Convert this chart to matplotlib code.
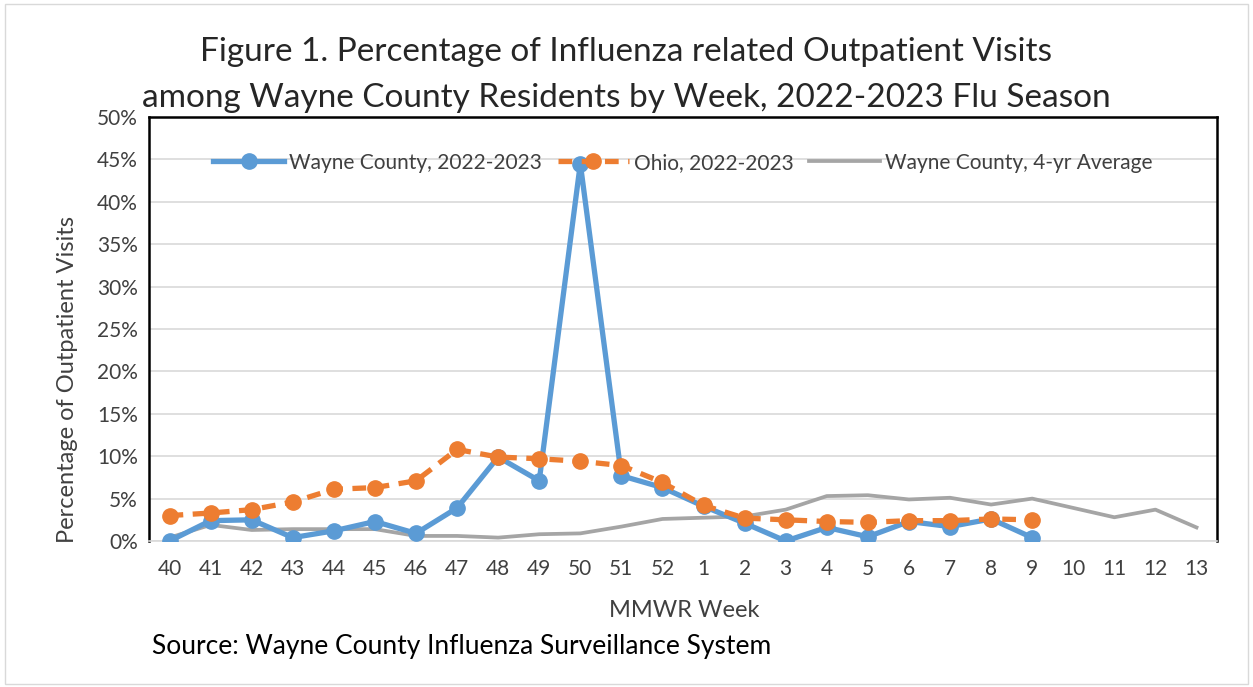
import matplotlib
matplotlib.use("Agg")
import matplotlib.pyplot as plt
from matplotlib.patches import Rectangle

plt.rcParams['font.family'] = ['Lato', 'DejaVu Sans']

weeks = ["40", "41", "42", "43", "44", "45", "46", "47", "48", "49", "50", "51", "52",
         "1", "2", "3", "4", "5", "6", "7", "8", "9", "10", "11", "12", "13"]
wayne_2223 = [0.0, 2.4, 2.5, 0.4, 1.2, 2.3, 0.9, 3.9, 9.9, 7.1, 44.5, 7.7, 6.3,
              4.1, 2.1, 0.0, 1.6, 0.5, 2.3, 1.7, 2.6, 0.4]
ohio_2223 = [3.0, 3.3, 3.7, 4.6, 6.1, 6.3, 7.1, 10.8, 9.9, 9.7, 9.4, 8.9, 6.9,
             4.2, 2.7, 2.5, 2.3, 2.2, 2.4, 2.4, 2.6, 2.5]
wayne_avg = [0.4, 1.9, 1.3, 1.4, 1.4, 1.4, 0.6, 0.6, 0.4, 0.8, 0.9, 1.7, 2.6,
             2.75, 2.9, 3.7, 5.3, 5.4, 4.9, 5.1, 4.3, 5.0, 3.9, 2.8, 3.7, 1.6]
yticks = [0, 5, 10, 15, 20, 25, 30, 35, 40, 45, 50]

BLUE = "#5B9BD5"
ORANGE = "#ED7D31"
GRAY = "#A5A5A5"
TXT = "#404040"

fig = plt.figure(figsize=(12.53, 6.87), dpi=100)
fig.patches.append(Rectangle((0.004, 0.004), 0.992, 0.99, transform=fig.transFigure,
                             fill=False, edgecolor="#D9D9D9", linewidth=1))
ax = fig.add_axes([0.1189, 0.2125, 0.8524, 0.6172])

x_all = list(range(len(weeks)))
ax.plot(x_all[:len(wayne_2223)], wayne_2223, color=BLUE, lw=3.8, marker='o', ms=11,
        label="Wayne County, 2022-2023", zorder=3)
ax.plot(x_all[:len(ohio_2223)], ohio_2223, color=ORANGE, lw=3.8, ls=(0, (2.6, 1.8)), marker='o', ms=11,
        label="Ohio, 2022-2023", zorder=4)
ax.plot(x_all[:len(wayne_avg)], wayne_avg, color=GRAY, lw=2.7,
        label="Wayne County, 4-yr Average", zorder=2)

ax.set_xlim(-0.5, len(weeks) - 0.5)
ax.set_ylim(0, 50)
ax.set_yticks(yticks)
ax.set_yticklabels([f"{v}%" for v in yticks])
ax.set_xticks(x_all)
ax.set_xticklabels(weeks)
ax.tick_params(axis='both', length=0, labelsize=15, labelcolor=TXT)
ax.tick_params(axis='x', pad=13)
ax.tick_params(axis='y', pad=8)
ax.grid(axis='y', color="#D9D9D9", lw=1.2, zorder=0)
ax.set_axisbelow(True)
for s in ['top', 'right', 'left']:
    ax.spines[s].set_color('black')
    ax.spines[s].set_linewidth(1.8)
ax.spines['bottom'].set_color('#D9D9D9')
ax.spines['bottom'].set_linewidth(1.2)

leg = ax.legend(loc='upper center', bbox_to_anchor=(0.5, 0.96), ncol=3, frameon=False,
                fontsize=15, handlelength=3.4, numpoints=1, columnspacing=0.75,
                handletextpad=0.25)
for t in leg.get_texts():
    t.set_color(TXT)

fig.text(0.5, 0.925, "Figure 1. Percentage of Influenza related Outpatient Visits",
         ha='center', va='center', fontsize=24, color='#262626')
fig.text(0.5, 0.858, "among Wayne County Residents by Week, 2022-2023 Flu Season",
         ha='center', va='center', fontsize=24, color='#262626')
fig.text(0.054, 0.448, "Percentage of Outpatient Visits", rotation=90, ha='center', va='center',
         fontsize=17, color=TXT)
fig.text(0.546, 0.112, "MMWR Week", ha='center', va='center', fontsize=17, color=TXT)
fig.text(0.121, 0.059, "Source: Wayne County Influenza Surveillance System", ha='left', va='center',
         fontsize=19, color='black')

fig.savefig("out.png", dpi=100)
